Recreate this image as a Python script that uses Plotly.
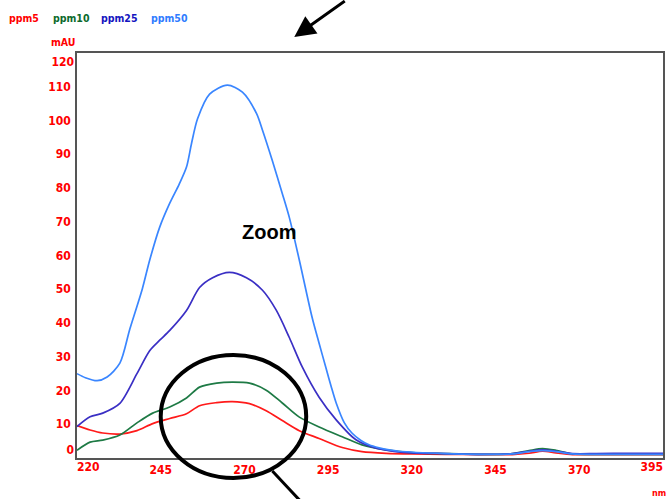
import plotly.graph_objects as go

# ---- data ----
series_names = ["ppm5", "ppm10", "ppm25", "ppm50"]
line_colors = ["#ff1a1a", "#1e7a45", "#3a2fc4", "#3a86ff"]
label_colors = ["#ff0000", "#0b6a2c", "#1414c0", "#2f7cff"]

tail_x = [320, 330, 340, 350, 355, 359, 363, 368, 375, 385, 395]

ppm5_x = [220, 223.9, 227.7, 232.8, 237.9, 242.6, 247.7, 252.7, 256.6, 261.7, 266.4, 271.5, 276.5, 281.3,
          286.4, 292.3, 299.2, 305.1, 312.3] + tail_x
ppm5_y = [9.6, 8.3, 7.4, 7.1, 8.1, 10.2, 11.7, 13.1, 15.5, 16.4, 16.7, 16.1, 14.0, 11.1,
          8.1, 5.8, 3.1, 1.9, 1.4] + [1.2, 1.1, 1.0, 1.0, 1.4, 2.0, 1.5, 1.0, 1.0, 1.0, 1.0]

ppm10_x = [220, 223.9, 227.7, 232.8, 237.9, 242.6, 247.7, 252.7, 256.6, 261.7, 266.4, 271.5, 276.5, 281.3,
           286.4, 292.3, 299.2, 305.1, 312.3] + tail_x
ppm10_y = [2.3, 4.7, 5.3, 6.8, 10.4, 13.3, 15.1, 17.8, 21.0, 22.2, 22.5, 22.2, 20.1, 16.3,
           12.1, 9.2, 6.3, 3.9, 2.4] + [1.6, 1.3, 1.1, 1.3, 2.2, 2.8, 2.3, 1.2, 1.1, 1.1, 1.1]

ppm25_x = [220, 223.9, 227.7, 232.8, 237.9, 241.7, 244.7, 247.7, 252.7, 256.6, 260.5, 265.5, 270.6, 275.4,
           279.5, 283.4, 287.3, 292.3, 297.4, 303.3, 309.3, 315.2] + tail_x
ppm25_y = [9.3, 12.2, 13.3, 16.2, 25.0, 31.8, 34.9, 37.8, 43.7, 50.5, 53.4, 55.0, 53.4, 49.7,
           43.8, 35.7, 26.9, 18.0, 11.3, 5.4, 2.9, 1.9] + [1.5, 1.3, 1.1, 1.3, 2.0, 2.4, 2.0, 1.3, 1.3, 1.4, 1.4]

ppm50_x = [220, 222.5, 226, 229, 232.8, 235.8, 239.5, 241.7, 244.7, 247.7, 250.5, 252.7, 254.2, 256,
           259.6, 264.9, 269.4, 273.6, 275.4, 278.3, 281.3, 283.4, 286.4, 290.2, 292.3, 294.4, 295.9,
           297.4, 299.8, 302.1, 304.8, 307.2, 310.2, 313.2, 316.1] + tail_x[1:]
ppm50_y = [25.0, 23.8, 22.9, 24.0, 28.1, 38.3, 50.1, 58.6, 68.4, 75.5, 81.1, 86.2, 93.2, 100.5,
           107.8, 110.5, 108.4, 102.1, 97.1, 88.2, 78.4, 71.3, 58.6, 41.7, 34.0, 26.5, 21.2,
           16.3, 10.5, 7.4, 5.2, 3.9, 3.0, 2.4, 2.0] + [1.3, 1.1, 1.2, 1.9, 2.2, 1.9, 1.2, 1.1, 1.1, 1.1]

x_ticks_inner = [245, 270, 295, 320, 345, 370]
x_tick_first, x_tick_last = 220, 395
y_ticks_inner = [10, 20, 30, 40, 50, 60, 70, 80, 90, 100, 110]
y_tick_first, y_tick_last = 0, 120

xs = [ppm5_x, ppm10_x, ppm25_x, ppm50_x]
ys = [ppm5_y, ppm10_y, ppm25_y, ppm50_y]

TICK_FONT = "Liberation Sans Narrow, Arial Narrow, DejaVu Sans Condensed, sans-serif"
tickfont = dict(family=TICK_FONT, size=12, color="#ff0000", weight="bold")
X_RANGE = [220, 395]
Y_RANGE = [0, 120]

fig = go.Figure()
for name, x, y, c in zip(series_names, xs, ys, line_colors):
    fig.add_trace(go.Scatter(x=x, y=y, mode="lines", name=name, cliponaxis=True,
                             line=dict(color=c, width=1.7, shape="spline", smoothing=0.8)))

axis_common = dict(showgrid=False, zeroline=False, showline=True, linecolor="#555555",
                   linewidth=1.5, mirror=True, ticks="", tickfont=tickfont)
overlay_common = dict(showgrid=False, zeroline=False, showline=False, ticks="", tickfont=tickfont)

fig.update_layout(
    width=671, height=499,
    margin=dict(l=77, r=6, t=53, b=41),
    paper_bgcolor="white", plot_bgcolor="white",
    showlegend=False,
    xaxis=dict(range=X_RANGE, tickvals=x_ticks_inner, ticktext=[str(v) for v in x_ticks_inner], **axis_common),
    yaxis=dict(range=Y_RANGE, tickvals=y_ticks_inner, ticktext=[str(v) for v in y_ticks_inner],
               ticklabelstandoff=2, **axis_common),
    # end labels kept inside the frame, as in the original
    xaxis2=dict(overlaying="x", anchor="y", side="bottom", range=X_RANGE, tickvals=[x_tick_first],
                ticktext=[str(x_tick_first)], ticklabelposition="outside right", **overlay_common),
    xaxis3=dict(overlaying="x", anchor="y", side="bottom", range=X_RANGE, tickvals=[x_tick_last],
                ticktext=[str(x_tick_last)], ticklabelposition="outside left", **overlay_common),
    yaxis2=dict(overlaying="y", anchor="x", side="left", range=Y_RANGE, tickvals=[y_tick_first],
                ticktext=[str(y_tick_first)], ticklabelposition="outside top", ticklabelstandoff=2,
                **overlay_common),
    yaxis3=dict(overlaying="y", anchor="x", side="left", range=Y_RANGE, tickvals=[y_tick_last],
                ticktext=[str(y_tick_last)], ticklabelposition="outside bottom", ticklabelstandoff=2,
                **overlay_common),
)
# invisible traces so the overlay axes are drawn
for xa, ya in [("x2", "y"), ("x3", "y"), ("x", "y2"), ("x", "y3")]:
    fig.add_trace(go.Scatter(x=[X_RANGE[0]], y=[Y_RANGE[0]], xaxis=xa, yaxis=ya, mode="markers",
                             marker=dict(opacity=0), hoverinfo="skip", showlegend=False))

# legend-like labels at top
label_x_px = [24, 71, 120, 170]
for name, col, px in zip(series_names, label_colors, label_x_px):
    fig.add_annotation(text=name, xref="paper", yref="paper", xanchor="center", yanchor="middle",
                       x=(px - 77) / 588, y=(458 - 18) / 405, showarrow=False,
                       font=dict(family=TICK_FONT, size=10.5, color=col, weight="bold"))

# axis unit labels
fig.add_annotation(text="mAU", xref="paper", yref="paper", xanchor="center", yanchor="middle",
                   x=(63 - 77) / 588, y=(458 - 42) / 405, showarrow=False,
                   font=dict(family=TICK_FONT, size=10.5, color="#ff0000", weight="bold"))
fig.add_annotation(text="nm", xref="paper", yref="paper", xanchor="center", yanchor="middle",
                   x=(661 - 77) / 588, y=(458 - 493) / 405, showarrow=False,
                   font=dict(family=TICK_FONT, size=9, color="#ff0000", weight="bold"))

# "Zoom" text
fig.add_annotation(text="<b>Zoom</b>", xref="paper", yref="paper", xanchor="center", yanchor="middle",
                   x=(270 - 77) / 588, y=(458 - 232) / 405, showarrow=False,
                   font=dict(family="Liberation Sans, Arial, sans-serif", size=20, color="black"))

# arrow at the top
fig.add_annotation(text="", xref="paper", yref="paper", x=(295 - 77) / 588, y=(458 - 37) / 405,
                   ax=52, ay=-44, showarrow=True, arrowhead=2, arrowsize=1.4, arrowwidth=3,
                   arrowcolor="black")

# circle and its handle
fig.add_shape(type="circle", xref="paper", yref="paper",
              x0=(161 - 77) / 588, x1=(307 - 77) / 588, y0=(458 - 478) / 405, y1=(458 - 355) / 405,
              line=dict(color="black", width=4))
fig.add_shape(type="line", xref="paper", yref="paper",
              x0=(273 - 77) / 588, y0=(458 - 471) / 405, x1=(303 - 77) / 588, y1=(458 - 503) / 405,
              line=dict(color="black", width=3))

fig.write_html("out.html")
